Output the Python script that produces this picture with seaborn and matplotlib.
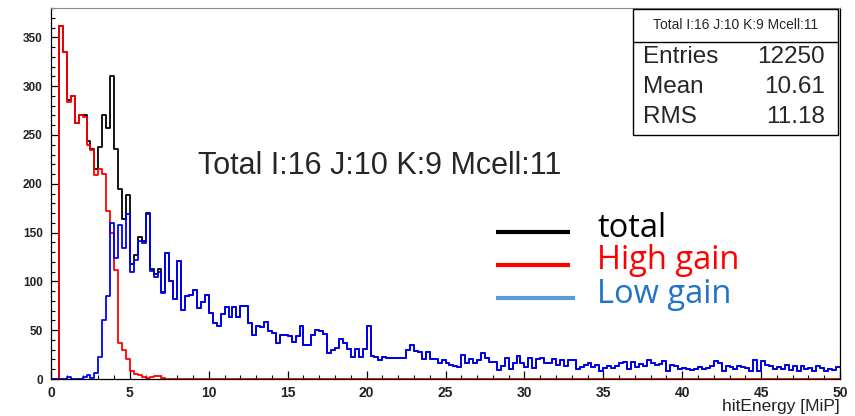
import numpy as np
import pandas as pd
import matplotlib
matplotlib.use("Agg")
import matplotlib.pyplot as plt
from matplotlib.patches import Rectangle
from matplotlib.lines import Line2D
from matplotlib.ticker import MultipleLocator
import seaborn as sns

# 200 bins of 0.25 MiP between 0 and 50
bin_edges = [i * 0.25 for i in range(201)]

# High-gain channel counts (non-zero only below ~7 MiP)
high_gain = [0, 0, 362, 335, 284, 290, 262, 270, 268, 240, 235, 209,
             215, 210, 172, 150, 112, 37, 30, 20, 8, 5, 4, 2, 1, 2, 3, 3, 1] + [0] * 171

# Low-gain channel counts
low_gain = [0, 0, 0, 0, 2, 0, 0, 0, 2, 4, 1, 6,
            23, 60, 85, 160, 124, 158, 134, 169, 110, 122, 141, 139,
            169, 111, 105, 110, 88, 129, 100, 82, 121, 71, 85, 86,
            91, 73, 79, 86, 68, 57, 54, 67, 74, 64, 74, 64,
            75, 75, 57, 45, 54, 53, 58, 49, 47, 37, 45, 45,
            44, 38, 44, 54, 35, 35, 45, 50, 49, 46, 27, 30,
            32, 41, 37, 31, 23, 31, 23, 31, 54, 24, 23, 19,
            23, 22, 22, 22, 22, 22, 30, 35, 29, 28, 20, 28,
            20, 20, 16, 19, 16, 14, 13, 12, 25, 16, 20, 16,
            19, 27, 22, 17, 17, 9, 13, 22, 10, 16, 24, 16,
            12, 22, 11, 20, 22, 16, 16, 20, 14, 19, 13, 19,
            19, 10, 12, 14, 16, 12, 14, 8, 11, 13, 11, 13,
            16, 17, 10, 17, 12, 15, 13, 19, 16, 14, 15, 18,
            8, 14, 13, 10, 11, 10, 9, 10, 12, 10, 11, 13,
            18, 16, 8, 13, 12, 10, 13, 12, 11, 8, 19, 8,
            18, 14, 13, 10, 12, 10, 14, 9, 13, 8, 13, 10,
            11, 8, 13, 11, 8, 10, 9, 12]

# Total = sum of both gain channels
total = list(np.array(high_gain) + np.array(low_gain))

stats_title = "Total I:16 J:10 K:9 Mcell:11"
stats_rows = [("Entries", "12250"), ("Mean", "10.61"), ("RMS", "11.18")]
legend_items = [("total", "black", "black"),
                ("High gain", "#ff0000", "#ff0000"),
                ("Low gain", "#5b9bd5", "#1f74c4")]

sns.set_style("ticks")
plt.rcParams["font.family"] = ["Liberation Sans", "DejaVu Sans"]

W, H = 855, 416
fig = plt.figure(figsize=(W / 100, H / 100), dpi=100)


def fx(x):
    return x / W


def fy(y):
    return 1 - y / H


ax_left, ax_right, ax_top, ax_bottom = 51, 840, 7.5, 379
px_per_count = 0.976
ax = fig.add_axes([fx(ax_left), fy(ax_bottom),
                   (ax_right - ax_left) / W, (ax_bottom - ax_top) / H])

centers = [0.5 * (a + b) for a, b in zip(bin_edges[:-1], bin_edges[1:])]
df = pd.DataFrame({"hitEnergy": centers, "total": total,
                   "high": high_gain, "low": low_gain})

for col, color in [("total", "black"), ("high", "#ff0000"), ("low", "#0000ff")]:
    sns.histplot(data=df, x="hitEnergy", weights=col, bins=bin_edges,
                 element="step", fill=False, color=color, linewidth=1.3, ax=ax)

ax.set_xlim(0, 50)
ax.set_ylim(0, (ax_bottom - ax_top) / px_per_count)
ax.set_xlabel("")
ax.set_ylabel("")
ax.xaxis.set_major_locator(MultipleLocator(5))
ax.xaxis.set_minor_locator(MultipleLocator(1))
ax.yaxis.set_major_locator(MultipleLocator(50))
ax.yaxis.set_minor_locator(MultipleLocator(10))
ax.tick_params(which="major", direction="in", length=6, width=0.9,
               color="black")
ax.tick_params(which="minor", direction="in", length=3, width=0.8, color="black")
ax.tick_params(axis="x", which="major", labelsize=10, pad=5)
ax.tick_params(axis="y", which="major", labelsize=8.5, pad=6)
ax.set_yticks(np.arange(0, 351, 50))
for lbl in ax.get_xticklabels() + ax.get_yticklabels():
    lbl.set_fontweight("bold")
    lbl.set_color("#222222")
for name, sp in ax.spines.items():
    sp.set_visible(True)
    sp.set_linewidth(0.9)
    sp.set_color("black")
ax.spines["top"].set_color("#888888")
ax.spines["top"].set_linewidth(0.8)

fig.text(fx(840), fy(406), "hitEnergy [MiP]", ha="right", va="center", fontsize=12.5,
         color="#222222")

# Title inside the frame
fig.text(fx(198), fy(166), stats_title, ha="left", va="center", fontsize=22)

# Statistics box
box_l, box_r, box_t, box_b, box_sep = 633, 838, 9, 135, 42
fig.patches.append(Rectangle((fx(box_l), fy(box_b)), (box_r - box_l) / W,
                             (box_b - box_t) / H, transform=fig.transFigure,
                             facecolor="white", edgecolor="black", linewidth=1.0,
                             zorder=5))
fig.lines.append(Line2D([fx(box_l), fx(box_r)], [fy(box_sep), fy(box_sep)],
                        transform=fig.transFigure, color="black", linewidth=1.0,
                        zorder=6))
fig.text(fx((box_l + box_r) / 2), fy(25), stats_title, ha="center", va="center",
         fontsize=10, zorder=7)
for i, (name, val) in enumerate(stats_rows):
    yy = 57 + i * 30
    fig.text(fx(643), fy(yy), name, ha="left", va="center", fontsize=17.5, zorder=7)
    fig.text(fx(825), fy(yy), val, ha="right", va="center", fontsize=17.5, zorder=7)

# Hand-drawn legend
legend_line_y = [231.5, 265, 297.5]
legend_text_base = [237, 269, 303]
for i, (label, line_color, text_color) in enumerate(legend_items):
    yy = legend_line_y[i]
    fig.lines.append(Line2D([fx(496), fx(570 + 5 * (i == 2))], [fy(yy), fy(yy)],
                            transform=fig.transFigure, color=line_color,
                            linewidth=3, solid_capstyle="butt"))
    fig.text(fx(597), fy(legend_text_base[i]), label, ha="left", va="baseline",
             fontsize=23.5, color=text_color, family=["Open Sans", "DejaVu Sans"])

fig.savefig("out.png", dpi=100)
